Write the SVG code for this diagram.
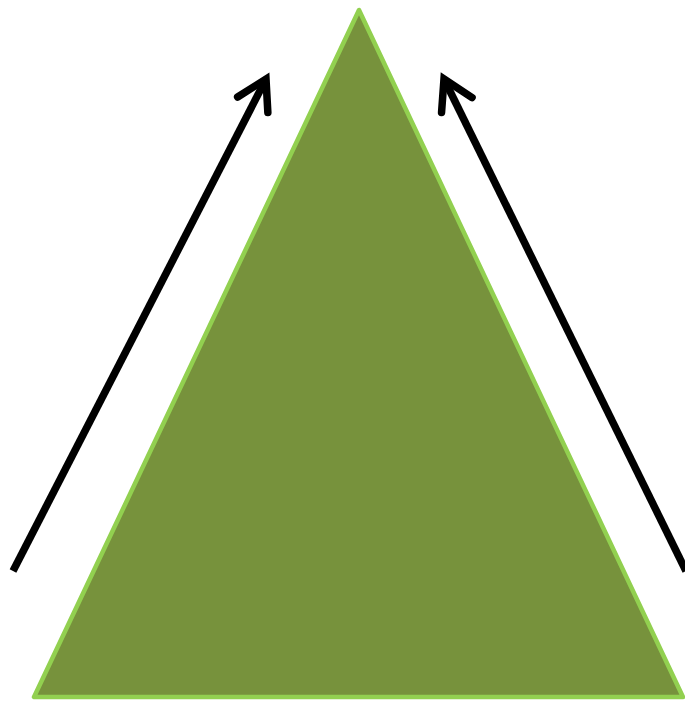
<svg xmlns="http://www.w3.org/2000/svg" width="685" height="702" viewBox="0 0 685 702">
<style>
.conn{fill:none;stroke:#000;stroke-width:7.5;stroke-linecap:butt;stroke-linejoin:round}
.tri{fill:#77923C;stroke:#92D050;stroke-width:4.5;stroke-linejoin:round}
</style>
<defs>
<marker id="head" markerUnits="userSpaceOnUse" markerWidth="80" markerHeight="80" viewBox="-40 -40 80 80" refX="0" refY="0" orient="auto" overflow="visible">
<path d="M-29,-17 L0,0 L-29,17" fill="none" stroke="#000" stroke-width="7.5" stroke-linecap="round" stroke-linejoin="miter"/>
</marker>
</defs>
<g id="pyramid">
<polygon class="tri" points="359,10 34,697 683,697"/>
</g>
<g id="connectors">
<path class="conn" d="M13,571 L266,79" marker-end="url(#head)"/>
<path class="conn" d="M686,571 L444,79" marker-end="url(#head)"/>
</g>
</svg>
